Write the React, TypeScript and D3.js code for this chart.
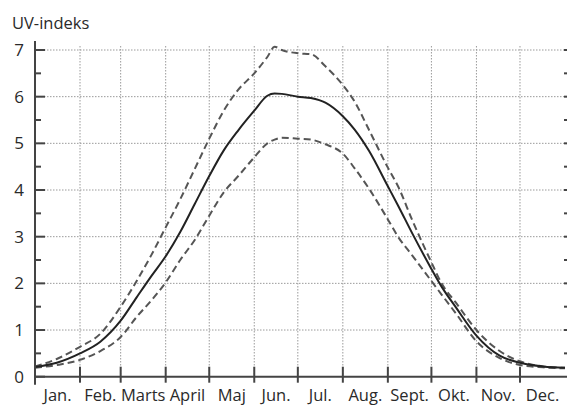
import { useEffect, useRef } from "react";
import * as d3 from "d3";

// month labels and the day of year each month starts
const months = ["Jan.", "Feb.", "Marts", "April", "Maj", "Jun.", "Jul.", "Aug.", "Sept.", "Okt.", "Nov.", "Dec."];
const monthStarts = [0, 31, 59, 90, 120, 151, 181, 212, 243, 273, 304, 334, 365];

const yTicks = [0, 1, 2, 3, 4, 5, 6, 7];

// day of year for the sampled points
const days = [0, 15, 31, 45, 59, 70, 80, 90, 100, 110, 120, 130, 140, 151, 160, 165, 170, 181, 190, 200, 212, 220, 230, 243, 250, 260, 273, 280, 290, 304, 320, 334, 350, 365];

// mean UV index
const meanUV = [0.21, 0.3, 0.5, 0.75, 1.2, 1.7, 2.15, 2.58, 3.1, 3.7, 4.3, 4.85, 5.28, 5.7, 6.02, 6.07, 6.06, 6.0, 5.97, 5.87, 5.58, 5.3, 4.84, 4.08, 3.67, 3.06, 2.31, 1.93, 1.48, 0.88, 0.45, 0.3, 0.22, 0.19];
// upper bound
const upperUV = [0.22, 0.38, 0.64, 0.92, 1.5, 2.05, 2.6, 3.2, 3.8, 4.45, 5.1, 5.7, 6.15, 6.5, 6.85, 7.07, 7.0, 6.93, 6.91, 6.65, 6.25, 5.9, 5.29, 4.48, 4.08, 3.34, 2.45, 2.0, 1.58, 1.0, 0.55, 0.33, 0.22, 0.19];
// lower bound
const lowerUV = [0.19, 0.25, 0.36, 0.55, 0.85, 1.28, 1.63, 2.02, 2.5, 2.93, 3.45, 3.95, 4.3, 4.7, 5.0, 5.08, 5.12, 5.1, 5.08, 4.98, 4.78, 4.47, 4.03, 3.37, 3.0, 2.59, 2.05, 1.76, 1.35, 0.76, 0.4, 0.25, 0.2, 0.18];

const W = 567;
const H = 407;

export default function App() {
  const ref = useRef<SVGSVGElement>(null);

  useEffect(() => {
    const svg = d3.select(ref.current);
    svg.selectAll("*").remove();

    const x = d3.scaleLinear().domain([0, 365]).range([35, 565]);
    const y = d3.scaleLinear().domain([0, 7]).range([376.7, 50]);

    const font = "'Open Sans', 'DejaVu Sans', sans-serif";
    const textColor = "#2a2a2a";

    // grid
    const grid = svg.append("g");
    grid.selectAll("line.h")
      .data(yTicks.slice(1))
      .enter()
      .append("line")
      .attr("x1", x(0))
      .attr("x2", x(365))
      .attr("y1", (d) => y(d))
      .attr("y2", (d) => y(d))
      .attr("stroke", "#9a9a9a")
      .attr("stroke-width", 1)
      .attr("stroke-dasharray", "1.5,1.5");
    grid.selectAll("line.v")
      .data(monthStarts.slice(1, 12))
      .enter()
      .append("line")
      .attr("x1", (d) => x(d))
      .attr("x2", (d) => x(d))
      .attr("y1", y(7) - 4)
      .attr("y2", y(0))
      .attr("stroke", "#9a9a9a")
      .attr("stroke-width", 1)
      .attr("stroke-dasharray", "1.5,1.5");

    // curves
    const line = d3.line<number>()
      .x((d, i) => x(days[i]))
      .y((d) => y(d))
      .curve(d3.curveMonotoneX);

    svg.append("path")
      .attr("d", line(upperUV))
      .attr("fill", "none")
      .attr("stroke", "#555")
      .attr("stroke-width", 2)
      .attr("stroke-dasharray", "7,4");
    svg.append("path")
      .attr("d", line(lowerUV))
      .attr("fill", "none")
      .attr("stroke", "#555")
      .attr("stroke-width", 2)
      .attr("stroke-dasharray", "7,4");
    svg.append("path")
      .attr("d", line(meanUV))
      .attr("fill", "none")
      .attr("stroke", "#222")
      .attr("stroke-width", 2);

    const axisColor = "#444";

    // left axis
    svg.append("line")
      .attr("x1", x(0)).attr("x2", x(0))
      .attr("y1", y(7) - 9).attr("y2", y(0) + 8)
      .attr("stroke", axisColor).attr("stroke-width", 2);
    const halfTicks = d3.range(0, 7.01, 0.5);
    svg.selectAll("line.ytick")
      .data(halfTicks)
      .enter()
      .append("line")
      .attr("x1", x(0))
      .attr("x2", (d) => x(0) + (d % 1 === 0 ? 10 : 6))
      .attr("y1", (d) => y(d))
      .attr("y2", (d) => y(d))
      .attr("stroke", axisColor)
      .attr("stroke-width", 2);

    // right-side ticks (axis itself is off the edge)
    svg.selectAll("line.rtick")
      .data(halfTicks.slice(1))
      .enter()
      .append("line")
      .attr("x1", W - 3)
      .attr("x2", W)
      .attr("y1", (d) => y(d))
      .attr("y2", (d) => y(d))
      .attr("stroke", axisColor)
      .attr("stroke-width", 2);

    svg.selectAll("text.ylab")
      .data(yTicks)
      .enter()
      .append("text")
      .attr("x", 24)
      .attr("y", (d) => y(d) + 6)
      .attr("text-anchor", "end")
      .attr("font-family", font)
      .attr("font-size", 17)
      .attr("fill", textColor)
      .text((d) => d);

    svg.append("text")
      .attr("x", 12)
      .attr("y", 29)
      .attr("font-family", font)
      .attr("font-size", 16.5)
      .attr("fill", textColor)
      .text("UV-indeks");

    // bottom axis
    svg.append("line")
      .attr("x1", x(0)).attr("x2", W)
      .attr("y1", y(0)).attr("y2", y(0))
      .attr("stroke", axisColor).attr("stroke-width", 2);
    svg.selectAll("line.xtick")
      .data(monthStarts.slice(1, 12))
      .enter()
      .append("line")
      .attr("x1", (d) => x(d))
      .attr("x2", (d) => x(d))
      .attr("y1", y(0) - 10)
      .attr("y2", y(0) + 6)
      .attr("stroke", axisColor)
      .attr("stroke-width", 2);

    svg.selectAll("text.xlab")
      .data(months)
      .enter()
      .append("text")
      .attr("x", (d, i) => (x(monthStarts[i]) + x(monthStarts[i + 1])) / 2)
      .attr("y", 401)
      .attr("text-anchor", "middle")
      .attr("font-family", font)
      .attr("font-size", 16.5)
      .attr("fill", textColor)
      .text((d) => d);
  }, []);

  return (
    <svg
      ref={ref}
      width={W}
      height={H}
      style={{ position: "absolute", left: 0, top: 0, background: "#fff" }}
    />
  );
}
